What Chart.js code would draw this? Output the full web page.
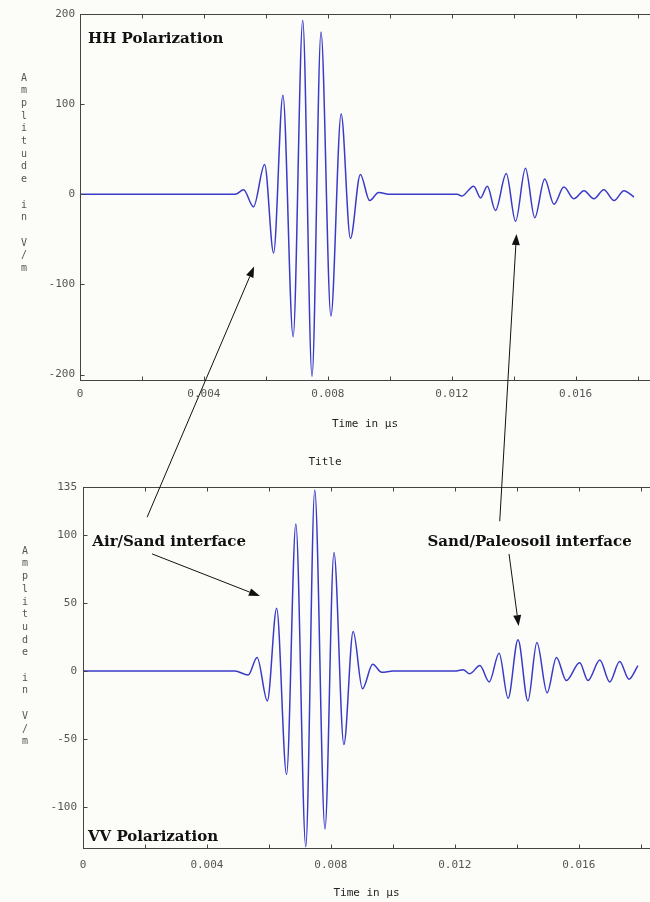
<!DOCTYPE html>
<html>
<head>
<meta charset="utf-8">
<script src="https://cdn.jsdelivr.net/npm/chart.js@4.4.0/dist/chart.umd.min.js"></script>
<style>
  body { margin: 0; background: #fcfdf9; }
  #wrap { position: relative; width: 650px; height: 902px; }
  canvas { position: absolute; left: 0; }
</style>
</head>
<body>
<div id="wrap">
  <canvas id="hh" width="650" height="450" style="top:0"></canvas>
  <canvas id="vv" width="650" height="452" style="top:450px"></canvas>
  <canvas id="notes" width="650" height="902" style="top:0"></canvas>
</div>
<script>
// HH polarization trace (time in us, amplitude in V/m)
var hhTime = [0, 0.00501, 0.00528, 0.00560, 0.00596, 0.00625, 0.00655, 0.00688, 0.00719, 0.00749,
  0.00778, 0.00810, 0.00843, 0.00873, 0.00905, 0.00935, 0.00964, 0.01002,
  0.01218, 0.01232, 0.01271, 0.01293, 0.01315, 0.01341, 0.01376, 0.01406, 0.01438, 0.01468,
  0.01500, 0.01530, 0.01562, 0.01594, 0.01627, 0.01659, 0.01691, 0.01724, 0.01756, 0.01788];
var hhAmp = [0, 0, 5, -14, 33, -65, 110, -158, 193, -202,
  180, -135, 89, -49, 22, -7, 2, 0,
  0, -2, 9, -4, 9, -18, 23, -30, 29, -26,
  17, -11, 8, -5, 4, -5, 5, -7, 4, -3];

// VV polarization trace
var vvTime = [0, 0.00490, 0.00533, 0.00562, 0.00595, 0.00625, 0.00657, 0.00687, 0.00719, 0.00748,
  0.00781, 0.00810, 0.00842, 0.00872, 0.00902, 0.00935, 0.00964, 0.01001,
  0.01205, 0.01227, 0.01248, 0.01281, 0.01311, 0.01343, 0.01372, 0.01404, 0.01436, 0.01465,
  0.01498, 0.01528, 0.01560, 0.01603, 0.01630, 0.01668, 0.01700, 0.01732, 0.01762, 0.01791];
var vvAmp = [0, 0, -3, 10, -22, 46, -76, 108, -129, 133,
  -116, 87, -54, 29, -13, 5, -1, 0,
  0, 1, -2, 4, -8, 13, -20, 23, -22, 21,
  -16, 10, -7, 6, -7, 8, -8, 7, -6, 4];

var hhYTicks = [-200, -100, 0, 100, 200];
var vvYTicks = [-100, -50, 0, 50, 100, 135];
var xTicks = [0, 0.002, 0.004, 0.006, 0.008, 0.010, 0.012, 0.014, 0.016, 0.018];
var xLabelled = [0, 0.004, 0.008, 0.012, 0.016];

var yLetters = ['A', 'm', 'p', 'l', 'i', 't', 'u', 'd', 'e', '', 'i', 'n', '', 'V', '/', 'm'];

var mono = 'DejaVu Sans Mono';
var serif = 'DejaVu Serif';

function points(ts, vs) {
  return ts.map(function(t, i) { return { x: t, y: vs[i] }; });
}

function xLabel(v) {
  var k = Math.round(v * 1000);
  if (xLabelled.indexOf(k / 1000) < 0) return '';
  return k === 0 ? '0' : (k / 1000).toFixed(3);
}

var framePlugin = {
  id: 'frame',
  beforeDraw: function(chart) {
    var ctx = chart.ctx;
    ctx.save();
    ctx.fillStyle = '#fcfdf9';
    ctx.fillRect(0, 0, chart.width, chart.height);
    ctx.restore();
  },
  afterDraw: function(chart, args, opts) {
    var ctx = chart.ctx, a = chart.chartArea;
    var xs = chart.scales.x, ys = chart.scales.y;
    var l = Math.round(a.left) + 0.5, t = Math.round(a.top) + 0.5;
    var r = Math.round(a.right) + 0.5, b = Math.round(a.bottom) + 0.5;
    ctx.save();
    ctx.strokeStyle = '#444';
    ctx.lineWidth = 1;
    ctx.strokeRect(l, t, r - l, b - t);
    ctx.beginPath();
    xs.ticks.forEach(function(tk) {
      var px = Math.round(xs.getPixelForValue(tk.value)) + 0.5;
      ctx.moveTo(px, t); ctx.lineTo(px, t + 4);
      ctx.moveTo(px, b); ctx.lineTo(px, b - 4);
    });
    ys.ticks.forEach(function(tk) {
      var py = Math.round(ys.getPixelForValue(tk.value)) + 0.5;
      ctx.moveTo(l, py); ctx.lineTo(l + 4, py);
    });
    ctx.stroke();

    // stacked y axis title
    ctx.fillStyle = '#555';
    ctx.font = '10px "' + mono + '"';
    ctx.textAlign = 'center';
    ctx.textBaseline = 'middle';
    yLetters.forEach(function(ch, i) {
      ctx.fillText(ch, opts.letterX, a.top + 64 + i * 12.7);
    });

    // annotation texts
    ctx.fillStyle = '#111';
    ctx.font = 'bold 15px "' + serif + '"';
    ctx.textAlign = 'left';
    (opts.notes || []).forEach(function(n) {
      ctx.fillText(n.text, xs.getPixelForValue(n.t), ys.getPixelForValue(n.v));
    });
    ctx.restore();
  }
};

function makeChart(id, ts, vs, cfg) {
  return new Chart(document.getElementById(id), {
    type: 'line',
    data: {
      datasets: [{
        data: points(ts, vs),
        borderColor: 'rgb(58,58,200)',
        borderWidth: 1.5,
        pointRadius: 0,
        cubicInterpolationMode: 'monotone',
        fill: false
      }]
    },
    options: {
      responsive: false,
      animation: false,
      devicePixelRatio: 1,
      layout: { padding: { top: cfg.padTop, left: 0, right: 0, bottom: 0 } },
      plugins: {
        legend: { display: false },
        tooltip: { enabled: false },
        title: cfg.title,
        frame: { letterX: cfg.letterX, notes: cfg.notes }
      },
      scales: {
        x: {
          type: 'linear',
          min: 0,
          max: cfg.xMax,
          grid: { display: false, drawTicks: false },
          border: { display: false },
          afterBuildTicks: function(s) { s.ticks = xTicks.map(function(v) { return { value: v }; }); },
          afterFit: function(s) { s.height = cfg.xHeight; s.paddingRight = 0; s.paddingLeft = 0; },
          ticks: {
            autoSkip: false, maxRotation: 0, padding: cfg.xPad,
            color: '#555', font: { family: mono, size: 11 },
            callback: function(v) { return xLabel(v); }
          },
          title: {
            display: true, text: 'Time in µs', color: '#222',
            font: { family: mono, size: 11 },
            padding: { top: 0, bottom: cfg.xTitlePad }
          }
        },
        y: {
          min: cfg.yMin,
          max: cfg.yMax,
          grid: { display: false, drawTicks: false },
          border: { display: false },
          afterBuildTicks: function(s) { s.ticks = cfg.yTicks.map(function(v) { return { value: v }; }); },
          afterFit: function(s) { s.width = cfg.yWidth; },
          ticks: {
            autoSkip: false, padding: cfg.yPad,
            color: '#555', font: { family: mono, size: 11 },
            callback: function(v) { return String(v); }
          }
        }
      }
    },
    plugins: [framePlugin]
  });
}

var hhChart = makeChart('hh', hhTime, hhAmp, {
  padTop: 14, xMax: 0.0184, xHeight: 70, xPad: 8, xTitlePad: 19,
  yMin: -206, yMax: 200, yTicks: hhYTicks, yWidth: 80, yPad: 5, letterX: 24,
  title: { display: false },
  notes: [{ text: 'HH Polarization', t: 0.00026, v: 172 }]
});

var vvChart = makeChart('vv', vvTime, vvAmp, {
  padTop: 0, xMax: 0.0183, xHeight: 54, xPad: 11, xTitlePad: 2,
  yMin: -130, yMax: 135, yTicks: vvYTicks, yWidth: 83, yPad: 6, letterX: 25,
  title: {
    display: true, text: 'Title', color: '#222',
    font: { family: mono, size: 11, weight: 'normal' },
    padding: { top: 6, bottom: 18 }
  },
  notes: [
    { text: 'Air/Sand interface', t: 0.00030, v: 95 },
    { text: 'Sand/Paleosoil interface', t: 0.01112, v: 95 },
    { text: 'VV Polarization', t: 0.00016, v: -122 }
  ]
});

// arrows: tail and head given in data coordinates of a chart
var arrowFrom = [['vv', 0.00207, 113], ['vv', 0.00223, 86], ['vv', 0.01345, 110], ['vv', 0.01375, 86]];
var arrowTo = [['hh', 0.00562, -80], ['vv', 0.00571, 55], ['hh', 0.01409, -44], ['vv', 0.01406, 33]];

function pagePoint(p) {
  var c = p[0] === 'hh' ? hhChart : vvChart;
  var top = p[0] === 'hh' ? 0 : 450;
  return [c.scales.x.getPixelForValue(p[1]), top + c.scales.y.getPixelForValue(p[2])];
}

var nctx = document.getElementById('notes').getContext('2d');
nctx.strokeStyle = '#111';
nctx.fillStyle = '#111';
nctx.lineWidth = 1;
arrowFrom.forEach(function(f, i) {
  var p0 = pagePoint(f), p1 = pagePoint(arrowTo[i]);
  var ang = Math.atan2(p1[1] - p0[1], p1[0] - p0[0]);
  var len = 11, half = 4;
  var bx = p1[0] - len * Math.cos(ang), by = p1[1] - len * Math.sin(ang);
  nctx.beginPath();
  nctx.moveTo(p0[0], p0[1]);
  nctx.lineTo(bx, by);
  nctx.stroke();
  nctx.beginPath();
  nctx.moveTo(p1[0], p1[1]);
  nctx.lineTo(bx + half * Math.sin(ang), by - half * Math.cos(ang));
  nctx.lineTo(bx - half * Math.sin(ang), by + half * Math.cos(ang));
  nctx.closePath();
  nctx.fill();
});
</script>
</body>
</html>
